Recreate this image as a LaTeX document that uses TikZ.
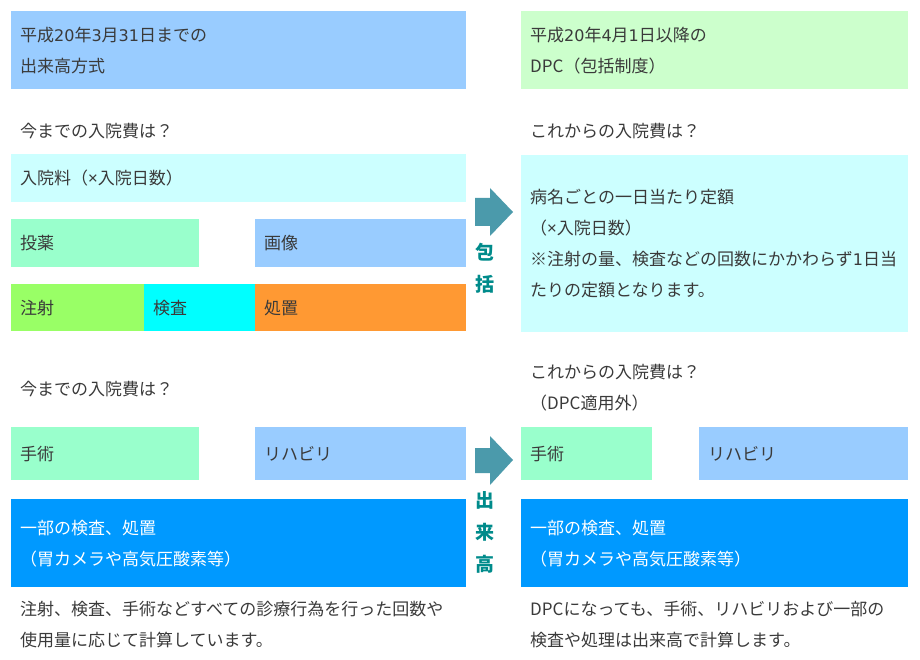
\documentclass[tikz,border=0pt]{standalone}
\usepackage{fontspec}
\setmainfont{Noto Sans CJK JP}
\newfontfamily\latinfont{DejaVu Sans}
\newfontfamily\timesfont{Noto Sans}
\newcommand{\dg}[1]{{\latinfont\fontsize{16}{31}\selectfont #1}}
\newcommand{\tms}{{\timesfont ×}}
\definecolor{txt}{HTML}{3A3A3A}
\definecolor{lblue}{HTML}{99CCFF}
\definecolor{lgreen}{HTML}{CCFFCC}
\definecolor{lcyan}{HTML}{CCFFFF}
\definecolor{mint}{HTML}{99FFCC}
\definecolor{lime}{HTML}{99FF66}
\definecolor{aqua}{HTML}{00FFFF}
\definecolor{orng}{HTML}{FF9933}
\definecolor{dblue}{HTML}{0099FF}
\definecolor{arrowcol}{HTML}{4B9AAB}
\definecolor{tealc}{HTML}{008B8B}
\begin{document}
\begin{tikzpicture}[x=1pt,y=-1pt,
  cellbox/.style={anchor=north west, inner xsep=9pt, inner ysep=0pt, align=left, text=txt, font=\fontsize{17}{31}\selectfont},
  txtlabel/.style={anchor=west, inner sep=0pt, align=left, text=txt, font=\fontsize{17}{31}\selectfont},
  vlabel/.style={inner sep=0pt, align=center, text=tealc, font=\fontsize{19}{32}\selectfont\bfseries},
  blockarrow/.style={fill=arrowcol}]
\useasboundingbox (0,0) rectangle (920,660);
% ---------- headers
\node[cellbox, fill=lblue, minimum height=78pt, text width=437pt] (oldhead) at (11,11) {平成\dg{20}年\dg{3}月\dg{31}日までの\\出来高方式};
\node[cellbox, fill=lgreen, minimum height=78pt, text width=369pt] (newhead) at (521,11) {平成\dg{20}年\dg{4}月\dg{1}日以降の\\DPC（包括制度）};
% ---------- section 1
\node[txtlabel] (q1l) at (20,131) {今までの入院費は？};
\node[txtlabel] (q1r) at (530,131) {これからの入院費は？};
\node[cellbox, fill=lcyan, minimum height=48pt, text width=437pt] (nyuin) at (11,154) {入院料（\tms 入院日数）};
\node[cellbox, fill=mint, minimum height=48pt, text width=170pt] (toyaku) at (11,219) {投薬};
\node[cellbox, fill=lblue, minimum height=48pt, text width=193pt] (gazo) at (255,219) {画像};
\node[cellbox, fill=lime, minimum height=47pt, text width=115pt] (chusha) at (11,284) {注射};
\node[cellbox, fill=aqua, minimum height=47pt, text width=93pt] (kensa) at (144,284) {検査};
\node[cellbox, fill=orng, minimum height=47pt, text width=193pt] (shochi) at (255,284) {処置};
\node[cellbox, fill=lcyan, minimum height=177pt, text width=369pt] (teigaku) at (521,155) {病名ごとの一日当たり定額\\（\tms 入院日数）\\※注射の量、検査などの回数にかかわらず\dg{1}日当\\たりの定額となります。};
\fill[blockarrow] (475,198) -- (490,198) -- (490,188) -- (513,212) -- (490,236) -- (490,226) -- (475,226) -- cycle;
\node[vlabel] (hokatsu) at (485,268) {包\\括};
% ---------- section 2
\node[txtlabel] (q2l) at (20,389) {今までの入院費は？};
\node[txtlabel] (q2r) at (530,388) {これからの入院費は？\\（DPC適用外）};
\node[cellbox, fill=mint, minimum height=53pt, text width=170pt] (shujutsul) at (11,427) {手術};
\node[cellbox, fill=lblue, minimum height=53pt, text width=193pt] (rihal) at (255,427) {リハビリ};
\node[cellbox, fill=mint, minimum height=53pt, text width=113pt] (shujutsur) at (521,427) {手術};
\node[cellbox, fill=lblue, minimum height=53pt, text width=191pt] (rihar) at (699,427) {リハビリ};
\node[cellbox, fill=dblue, text=white, minimum height=88pt, text width=437pt] (ichibul) at (11,499) {一部の検査、処置\\（胃カメラや高気圧酸素等）};
\node[cellbox, fill=dblue, text=white, minimum height=88pt, text width=369pt] (ichibur) at (521,499) {一部の検査、処置\\（胃カメラや高気圧酸素等）};
\fill[blockarrow] (475,448) -- (490,448) -- (490,436) -- (513,460) -- (490,485) -- (490,473) -- (475,473) -- cycle;
\node[vlabel] (dekidaka) at (485,532) {出\\来\\高};
% ---------- notes
\node[txtlabel] (notel) at (20,625) {注射、検査、手術などすべての診療行為を行った回数や\\使用量に応じて計算しています。};
\node[txtlabel] (noter) at (530,625) {DPCになっても、手術、リハビリおよび一部の\\検査や処理は出来高で計算します。};
\end{tikzpicture}
\end{document}
